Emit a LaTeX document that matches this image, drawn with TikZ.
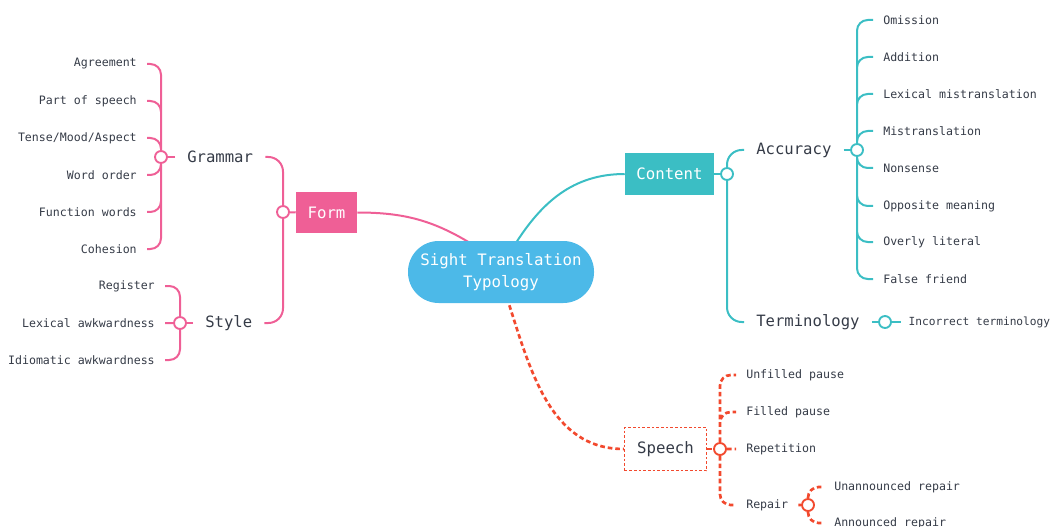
\documentclass[tikz,border=0pt]{standalone}
\usepackage{fontspec}
\newfontfamily\mapfont{DejaVu Sans Mono}
\usetikzlibrary{backgrounds}
\definecolor{formpink}{HTML}{EF5F96}
\definecolor{contentteal}{HTML}{3BBEC4}
\definecolor{speechred}{HTML}{F2492E}
\definecolor{rootblue}{HTML}{4CB9E8}
\definecolor{inkgray}{HTML}{353B47}
\tikzset{
  root/.style= {fill=rootblue, text=white, rounded corners=23pt, minimum width=139.5pt,
    minimum height=46.5pt, align=center, font=\mapfont\fontsize{11.8}{16.5}\selectfont},
  main/.style= {text=white, inner sep=0, font=\mapfont\fontsize{11.8}{14}\selectfont},
  topic/.style= {text=inkgray, inner xsep=9pt, font=\mapfont\fontsize{11.7}{14}\selectfont},
  leaf/.style= {text=inkgray, inner xsep=7.5pt, font=\mapfont\fontsize{8.7}{10}\selectfont},
  junc/.style= {circle, fill=white, line width=1.4pt, minimum size=9pt, inner sep=0},
  twig/.style= {to path={|- (\tikztotarget)}},
  bigtwig/.style= {rounded corners=11pt},
  formline/.style= {formpink, line width=1.5pt, rounded corners=8pt},
  contentline/.style= {contentteal, line width=1.5pt, rounded corners=8pt},
  speechline/.style= {speechred, line width=2pt, dash pattern=on 3.5pt off 2.2pt, rounded corners=8pt},
}

\begin{document}
\begin{tikzpicture}[x=0.75pt, y=-0.75pt]
  \useasboundingbox (0,0) rectangle (1055,527) ;

  % centre and main branches
  \node [root] (root) at (501,272) {Sight Translation\\Typology} ;
  \coordinate (root-form) at (475,246) ;
  \coordinate (root-content) at (514,246) ;
  \coordinate (root-speech) at (507,298) ;
  \node [main, fill=formpink, minimum width=45.75pt, minimum height=30.75pt] (form) at (326.5,212.5) {Form} ;
  \node [main, fill=contentteal, minimum width=66.75pt, minimum height=31.5pt] (content) at (669.5,174) {Content} ;
  \node [main, text=inkgray, fill=white, draw=speechred, line width=0.8pt, dash pattern=on 2pt off 1.5pt,
    minimum width=61.5pt, minimum height=32.25pt] (speech) at (665.5,449) {Speech} ;

  % form
  \node [junc, draw=formpink] (fj) at (283,212) {} ;
  \node [topic, anchor=west] (gram) at (175,157) {Grammar} ;
  \node [topic, anchor=west] (sty) at (193,323) {Style} ;
  \node [junc, draw=formpink] (gj) at (161,157) {} ;
  \node [junc, draw=formpink] (sj) at (180,323) {} ;
  \node [leaf, anchor=east] (agr) at (147,64) {Agreement} ;
  \node [leaf, anchor=east] (pos) at (147,101) {Part of speech} ;
  \node [leaf, anchor=east] (tma) at (147,138) {Tense/Mood/Aspect} ;
  \node [leaf, anchor=east] (wo) at (147,175) {Word order} ;
  \node [leaf, anchor=east] (fw) at (147,212) {Function words} ;
  \node [leaf, anchor=east] (coh) at (147,249) {Cohesion} ;
  \node [leaf, anchor=east] (reg) at (165,286) {Register} ;
  \node [leaf, anchor=east] (lexa) at (165,323) {Lexical awkwardness} ;
  \node [leaf, anchor=east] (idia) at (165,360) {Idiomatic awkwardness} ;

  % content
  \node [junc, draw=contentteal] (cj) at (727,174) {} ;
  \node [topic, anchor=west] (acc) at (744,150) {Accuracy} ;
  \node [topic, anchor=west] (term) at (744,322) {Terminology} ;
  \node [junc, draw=contentteal] (aj) at (857,150) {} ;
  \node [junc, draw=contentteal] (tj) at (885,322) {} ;
  \node [leaf, anchor=west] (omi) at (873,20) {Omission} ;
  \node [leaf, anchor=west] (add) at (873,57) {Addition} ;
  \node [leaf, anchor=west] (lexm) at (873,94) {Lexical mistranslation} ;
  \node [leaf, anchor=west] (mis) at (873,131) {Mistranslation} ;
  \node [leaf, anchor=west] (non) at (873,168) {Nonsense} ;
  \node [leaf, anchor=west] (opp) at (873,206) {Opposite meaning} ;
  \node [leaf, anchor=west] (lit) at (873,242) {Overly literal} ;
  \node [leaf, anchor=west] (ff) at (873,279) {False friend} ;
  \node [leaf, anchor=west, inner xsep=5.5pt, font=\mapfont\fontsize{8.4}{10}\selectfont] (inc) at (901,322) {Incorrect terminology} ;

  % speech
  \node [junc, draw=speechred] (spj) at (720,449) {} ;
  \node [leaf, anchor=west] (unf) at (736,375) {Unfilled pause} ;
  \node [leaf, anchor=west] (fil) at (736,412) {Filled pause} ;
  \node [leaf, anchor=west] (rep) at (736,449) {Repetition} ;
  \node [leaf, anchor=west] (repair) at (736,505) {Repair} ;
  \node [junc, draw=speechred] (rj) at (808,505) {} ;
  \node [leaf, anchor=west] (unan) at (824,487) {Unannounced repair} ;
  \node [leaf, anchor=west] (anno) at (824,523) {Announced repair} ;

  \begin{scope}[on background layer]
    \draw [formline] (form.east) to[out=0, in=148] (root-form) ;
    \draw [contentline] (root-content) to[out=58, in=180] (content.west) ;
    \draw [speechline] (root-speech) to[out=-72, in=180] (speech.west) ;

    \draw [formline] (form.west) -- (fj) ;
    \draw [formline, bigtwig] (fj) to[twig] (gram.east) (fj) to[twig] (sty.east) ;
    \draw [formline] (gram.west) -- (gj) (sty.west) -- (sj) ;
    \draw [formline] (gj) to[twig] (agr.east) (gj) to[twig] (pos.east) (gj) to[twig] (tma.east)
      (gj) to[twig] (wo.east) (gj) to[twig] (fw.east) (gj) to[twig] (coh.east) ;
    \draw [formline] (sj) to[twig] (reg.east) (sj) -- (lexa.east) (sj) to[twig] (idia.east) ;

    \draw [contentline] (content.east) -- (cj) ;
    \draw [contentline, bigtwig] (cj) to[twig] (acc.west) (cj) to[twig] (term.west) ;
    \draw [contentline] (acc.east) -- (aj) (term.east) -- (tj) -- (inc.west) ;
    \draw [contentline] (aj) to[twig] (omi.west) (aj) to[twig] (add.west) (aj) to[twig] (lexm.west)
      (aj) to[twig] (mis.west) (aj) to[twig] (non.west) (aj) to[twig] (opp.west)
      (aj) to[twig] (lit.west) (aj) to[twig] (ff.west) ;

    \draw [speechline] (speech.east) -- (spj) ;
    \draw [speechline] (spj) to[twig] (unf.west) (spj) to[twig] (fil.west) (spj) -- (rep.west)
      (spj) to[twig] (repair.west) ;
    \draw [speechline] (repair.east) -- (rj) (rj) to[twig] (unan.west) (rj) to[twig] (anno.west) ;
  \end{scope}
\end{tikzpicture}
\end{document}
